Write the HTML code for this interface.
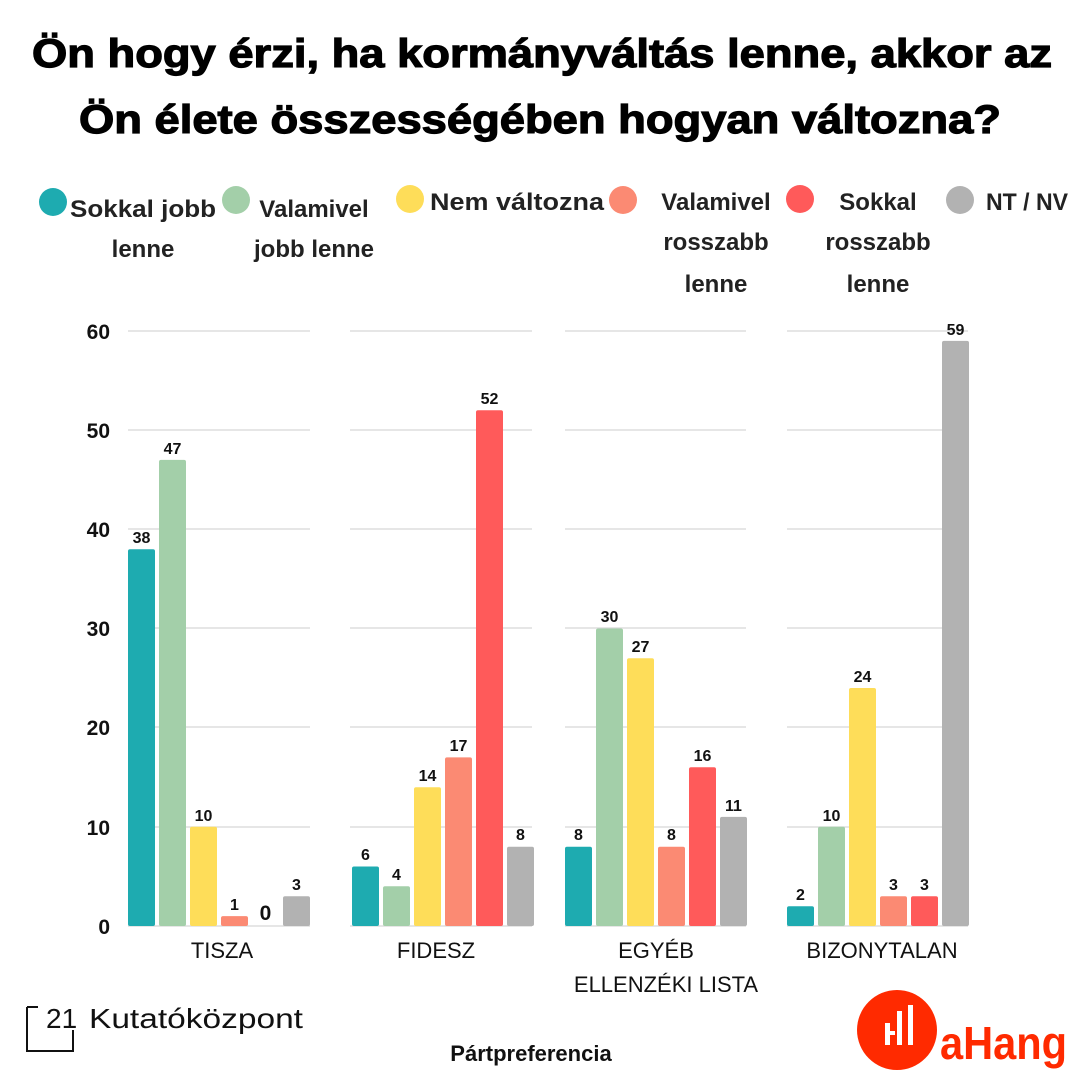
<!DOCTYPE html>
<html><head><meta charset="utf-8"><style>
body{margin:0;background:#fff}
svg text{font-family:"Liberation Sans",sans-serif}
</style></head><body>
<svg width="1080" height="1080" viewBox="0 0 1080 1080" xmlns="http://www.w3.org/2000/svg">
<rect width="1080" height="1080" fill="#fff"/>
<g font-weight="900" font-size="40" text-anchor="middle" fill="#000" stroke="#000" stroke-width="1.2">
<text x="542" y="67" textLength="1020" lengthAdjust="spacingAndGlyphs">Ön hogy érzi, ha kormányváltás lenne, akkor az</text>
<text x="540" y="133" textLength="922" lengthAdjust="spacingAndGlyphs">Ön élete összességében hogyan változna?</text>
</g>
<g font-size="24" fill="#222" font-weight="bold">
<circle cx="53" cy="202" r="14" fill="#1eabb0"/>
<text x="143" y="217" text-anchor="middle" textLength="146" lengthAdjust="spacingAndGlyphs">Sokkal jobb</text><text x="143" y="257" text-anchor="middle">lenne</text>
<circle cx="236" cy="200" r="14" fill="#a3cfa9"/>
<text x="314" y="217" text-anchor="middle">Valamivel</text><text x="314" y="257" text-anchor="middle">jobb lenne</text>
<circle cx="410" cy="199" r="14" fill="#fedd59"/>
<text x="430" y="210" textLength="174" lengthAdjust="spacingAndGlyphs">Nem változna</text>
<circle cx="623" cy="200" r="14" fill="#fb8a73"/>
<text x="716" y="210" text-anchor="middle">Valamivel</text><text x="716" y="250" text-anchor="middle">rosszabb</text><text x="716" y="292" text-anchor="middle">lenne</text>
<circle cx="800" cy="199" r="14" fill="#ff5a5a"/>
<text x="878" y="210" text-anchor="middle">Sokkal</text><text x="878" y="250" text-anchor="middle">rosszabb</text><text x="878" y="292" text-anchor="middle">lenne</text>
<circle cx="960" cy="200" r="14" fill="#b2b2b2"/>
<text x="986" y="210" textLength="82" lengthAdjust="spacingAndGlyphs">NT / NV</text>
</g>
<g stroke="#d6d6d6" stroke-width="1.3">
<line x1="128" x2="310" y1="331" y2="331"/><line x1="128" x2="310" y1="430" y2="430"/><line x1="128" x2="310" y1="529" y2="529"/><line x1="128" x2="310" y1="628" y2="628"/><line x1="128" x2="310" y1="727" y2="727"/><line x1="128" x2="310" y1="827" y2="827"/><line x1="128" x2="310" y1="926" y2="926"/>
<line x1="350" x2="532" y1="331" y2="331"/><line x1="350" x2="532" y1="430" y2="430"/><line x1="350" x2="532" y1="529" y2="529"/><line x1="350" x2="532" y1="628" y2="628"/><line x1="350" x2="532" y1="727" y2="727"/><line x1="350" x2="532" y1="827" y2="827"/><line x1="350" x2="532" y1="926" y2="926"/>
<line x1="565" x2="746" y1="331" y2="331"/><line x1="565" x2="746" y1="430" y2="430"/><line x1="565" x2="746" y1="529" y2="529"/><line x1="565" x2="746" y1="628" y2="628"/><line x1="565" x2="746" y1="727" y2="727"/><line x1="565" x2="746" y1="827" y2="827"/><line x1="565" x2="746" y1="926" y2="926"/>
<line x1="787" x2="968" y1="331" y2="331"/><line x1="787" x2="968" y1="430" y2="430"/><line x1="787" x2="968" y1="529" y2="529"/><line x1="787" x2="968" y1="628" y2="628"/><line x1="787" x2="968" y1="727" y2="727"/><line x1="787" x2="968" y1="827" y2="827"/><line x1="787" x2="968" y1="926" y2="926"/>
</g>
<g font-size="21" font-weight="bold" text-anchor="end" fill="#111">
<text x="110" y="339">60</text><text x="110" y="438">50</text><text x="110" y="537">40</text><text x="110" y="636">30</text><text x="110" y="735">20</text><text x="110" y="835">10</text><text x="110" y="934">0</text>
</g>
<g>
<rect x="128" y="549.2" width="27" height="376.8" rx="2" fill="#1eabb0"/>
<rect x="159" y="459.9" width="27" height="466.1" rx="2" fill="#a3cfa9"/>
<rect x="190" y="826.8" width="27" height="99.2" rx="2" fill="#fedd59"/>
<rect x="221" y="916.1" width="27" height="9.9" rx="2" fill="#fb8a73"/>
<rect x="283" y="896.25" width="27" height="29.75" rx="2" fill="#b2b2b2"/>
<rect x="352" y="866.5" width="27" height="59.5" rx="2" fill="#1eabb0"/>
<rect x="383" y="886.3" width="27" height="39.7" rx="2" fill="#a3cfa9"/>
<rect x="414" y="787.2" width="27" height="138.8" rx="2" fill="#fedd59"/>
<rect x="445" y="757.4" width="27" height="168.6" rx="2" fill="#fb8a73"/>
<rect x="476" y="410.3" width="27" height="515.7" rx="2" fill="#ff5a5a"/>
<rect x="507" y="846.7" width="27" height="79.3" rx="2" fill="#b2b2b2"/>
<rect x="565" y="846.7" width="27" height="79.3" rx="2" fill="#1eabb0"/>
<rect x="596" y="628.5" width="27" height="297.5" rx="2" fill="#a3cfa9"/>
<rect x="627" y="658.25" width="27" height="267.75" rx="2" fill="#fedd59"/>
<rect x="658" y="846.7" width="27" height="79.3" rx="2" fill="#fb8a73"/>
<rect x="689" y="767.3" width="27" height="158.7" rx="2" fill="#ff5a5a"/>
<rect x="720" y="816.9" width="27" height="109.1" rx="2" fill="#b2b2b2"/>
<rect x="787" y="906.2" width="27" height="19.8" rx="2" fill="#1eabb0"/>
<rect x="818" y="826.8" width="27" height="99.2" rx="2" fill="#a3cfa9"/>
<rect x="849" y="688" width="27" height="238" rx="2" fill="#fedd59"/>
<rect x="880" y="896.25" width="27" height="29.75" rx="2" fill="#fb8a73"/>
<rect x="911" y="896.25" width="27" height="29.75" rx="2" fill="#ff5a5a"/>
<rect x="942" y="340.9" width="27" height="585.1" rx="2" fill="#b2b2b2"/>
</g>
<g font-size="16" font-weight="bold" text-anchor="middle" fill="#111">
<text x="141.5" y="543">38</text><text x="172.5" y="454">47</text><text x="203.5" y="821">10</text><text x="234.5" y="910">1</text><text x="265.5" y="920" font-size="21">0</text><text x="296.5" y="890">3</text>
<text x="365.5" y="860">6</text><text x="396.5" y="880">4</text><text x="427.5" y="781">14</text><text x="458.5" y="751">17</text><text x="489.5" y="404">52</text><text x="520.5" y="840">8</text>
<text x="578.5" y="840">8</text><text x="609.5" y="622">30</text><text x="640.5" y="652">27</text><text x="671.5" y="840">8</text><text x="702.5" y="761">16</text><text x="733.5" y="811">11</text>
<text x="800.5" y="900">2</text><text x="831.5" y="821">10</text><text x="862.5" y="682">24</text><text x="893.5" y="890">3</text><text x="924.5" y="890">3</text><text x="955.5" y="335">59</text>
</g>
<g font-size="22" text-anchor="middle" fill="#111">
<text x="222" y="958">TISZA</text>
<text x="436" y="958">FIDESZ</text>
<text x="656" y="958">EGYÉB</text>
<text x="666" y="992">ELLENZÉKI LISTA</text>
<text x="882" y="958">BIZONYTALAN</text>
<text x="531" y="1061" font-weight="bold">Pártpreferencia</text>
</g>
<path d="M27 1007 V1051 H73 V1030 M27 1007 H38" fill="none" stroke="#111" stroke-width="2"/>
<text x="46" y="1028" font-size="28" fill="#111">21</text>
<text x="89" y="1028" font-size="28" fill="#111" textLength="214" lengthAdjust="spacingAndGlyphs">Kutatóközpont</text>
<circle cx="897" cy="1030" r="40" fill="#ff2a00"/>
<g fill="#fff"><rect x="885" y="1023" width="5" height="22"/><rect x="897" y="1011" width="5" height="34"/><rect x="908" y="1005" width="5" height="40"/><rect x="885" y="1031" width="10" height="4"/></g>
<text x="940" y="1059" font-size="46" font-weight="bold" fill="#ff2a00" textLength="127" lengthAdjust="spacingAndGlyphs">aHang</text>
</svg>
</body></html>
